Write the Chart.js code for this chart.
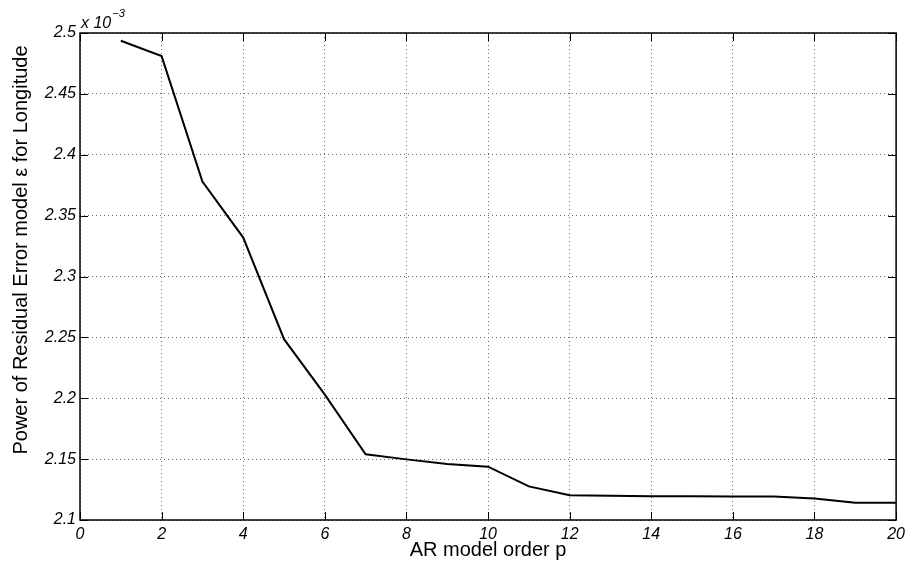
<!DOCTYPE html>
<html>
<head>
<meta charset="utf-8">
<title>AR model order vs residual error power</title>
<script src="https://cdn.jsdelivr.net/npm/chart.js@4"></script>
<style>
  html, body { margin: 0; padding: 0; background: #fff; }
  #wrap { width: 910px; height: 565px; }
</style>
</head>
<body>
<div id="wrap"><canvas id="arChart" width="910" height="565"></canvas></div>
<script>
// AR model order p
const orders = [1, 2, 3, 4, 5, 6, 7, 8, 9, 10, 11, 12, 13, 14, 15, 16, 17, 18, 19, 20];
// residual error power, in units of 1e-3
const residualPower = [2.4936, 2.481, 2.378, 2.332, 2.2485, 2.203, 2.154, 2.1498, 2.146, 2.1438,
                       2.1276, 2.1204, 2.1199, 2.1196, 2.1195, 2.1194, 2.1194, 2.1177, 2.1142, 2.1142];
const xTicks = [0, 2, 4, 6, 8, 10, 12, 14, 16, 18, 20];
const yTicks = [2.1, 2.15, 2.2, 2.25, 2.3, 2.35, 2.4, 2.45, 2.5];
const yTitle = 'Power of Residual Error model \u03b5 for Longitude';

const font = 'Liberation Sans, Arial, Helvetica, sans-serif';

// MATLAB style frame: box, inward ticks, exponent label and y title
const framePlugin = {
    id: 'matlabFrame',
    afterDraw: function(chart) {
        const ctx = chart.ctx;
        const a = chart.chartArea;
        const xs = chart.scales.x;
        const ys = chart.scales.y;
        const len = 8;
        ctx.save();
        ctx.strokeStyle = '#000';
        ctx.lineWidth = 1;
        ctx.beginPath();
        xTicks.forEach(function(t) {
            const px = Math.round(xs.getPixelForValue(t)) + 0.5;
            ctx.moveTo(px, a.bottom); ctx.lineTo(px, a.bottom - len);
            ctx.moveTo(px, a.top); ctx.lineTo(px, a.top + len);
        });
        yTicks.forEach(function(t) {
            const py = Math.round(ys.getPixelForValue(t)) + 0.5;
            ctx.moveTo(a.left, py); ctx.lineTo(a.left + len, py);
            ctx.moveTo(a.right, py); ctx.lineTo(a.right - len, py);
        });
        ctx.stroke();
        ctx.lineWidth = 1.5;
        ctx.strokeRect(a.left, a.top, a.right - a.left, a.bottom - a.top);

        // exponent label
        ctx.fillStyle = '#000';
        ctx.textBaseline = 'alphabetic';
        ctx.textAlign = 'left';
        ctx.font = 'italic 16px ' + font;
        ctx.fillText('x 10', a.left + 1, a.top - 5);
        const w = ctx.measureText('x 10').width;
        ctx.font = 'italic 11px ' + font;
        ctx.fillText('\u22123', a.left + 1 + w + 1, a.top - 16);

        // y axis title (sits a bit above the axis centre, like the original)
        ctx.translate(21, 250);
        ctx.rotate(-Math.PI / 2);
        ctx.textAlign = 'center';
        ctx.textBaseline = 'middle';
        ctx.font = '20px ' + font;
        ctx.fillText(yTitle, 0, 0);
        ctx.restore();
    }
};

const ctx = document.getElementById('arChart');
new Chart(ctx, {
    type: 'line',
    data: {
        datasets: [{
            data: orders.map(function(p, i) { return { x: p, y: residualPower[i] }; }),
            borderColor: '#000',
            borderWidth: 2,
            pointRadius: 0,
            tension: 0,
            fill: false
        }]
    },
    options: {
        responsive: false,
        animation: false,
        layout: { padding: { left: 0, right: 11, top: 33, bottom: 0 } },
        plugins: {
            legend: { display: false },
            tooltip: { enabled: false }
        },
        scales: {
            x: {
                type: 'linear',
                min: 0,
                max: 20,
                afterBuildTicks: function(scale) {
                    scale.ticks = xTicks.map(function(v) { return { value: v }; });
                },
                afterFit: function(scale) { scale.height = 45; },
                border: { display: false, dash: [1, 3] },
                grid: {
                    color: '#666',
                    lineWidth: 1,
                    drawTicks: false
                },
                ticks: {
                    color: '#000',
                    padding: 5,
                    maxRotation: 0,
                    font: { family: font, size: 16, style: 'italic' }
                },
                title: {
                    display: true,
                    text: 'AR model order p',
                    color: '#000',
                    padding: { top: 0, bottom: 3 },
                    font: { family: font, size: 20 }
                }
            },
            y: {
                type: 'linear',
                min: 2.1,
                max: 2.5,
                afterBuildTicks: function(scale) {
                    scale.ticks = yTicks.map(function(v) { return { value: v }; });
                },
                afterFit: function(scale) { scale.width = 80; },
                border: { display: false, dash: [1, 3] },
                grid: {
                    color: '#666',
                    lineWidth: 1,
                    drawTicks: false
                },
                ticks: {
                    color: '#000',
                    padding: 4,
                    font: { family: font, size: 16, style: 'italic' },
                    callback: function(v) { return String(parseFloat(Number(v).toFixed(3))); }
                }
            }
        }
    },
    plugins: [framePlugin]
});
</script>
</body>
</html>
